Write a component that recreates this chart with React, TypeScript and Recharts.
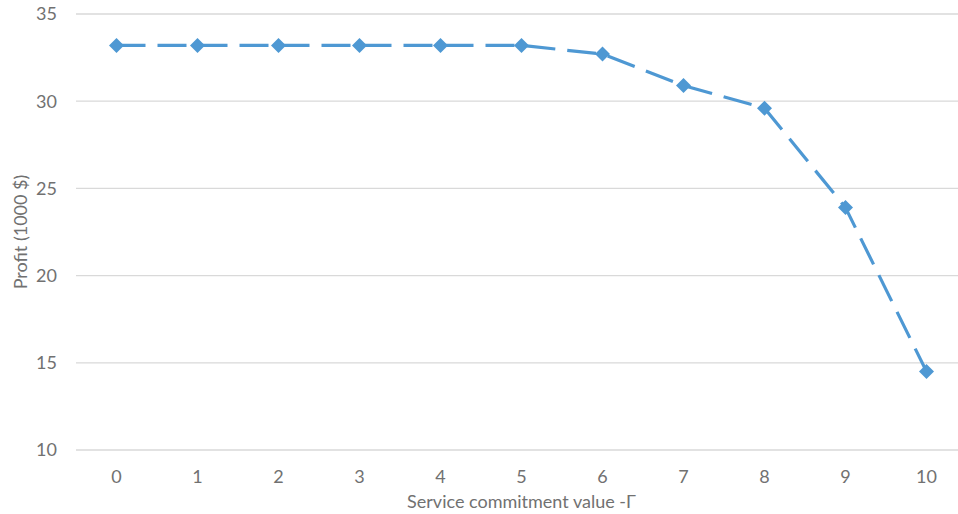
import React from 'react';
import { LineChart, Line, XAxis, YAxis, CartesianGrid } from 'recharts';

// Service commitment levels (Γ) and the resulting profit, in thousands of dollars
const gammaValues = ['0', '1', '2', '3', '4', '5', '6', '7', '8', '9', '10'];
const profitValues = [33.2, 33.2, 33.2, 33.2, 33.2, 33.2, 32.7, 30.9, 29.6, 23.9, 14.5];
const yTicks = [10, 15, 20, 25, 30, 35];

const data = gammaValues.map((g, i) => ({ gamma: g, profit: profitValues[i] }));

const LINE_COLOR = '#4E98D3';
const TEXT_COLOR = '#717171';
const FONT = 'Lato, "Open Sans", sans-serif';

const Diamond = (props: any) => {
  const { cx, cy } = props;
  if (cx == null || cy == null) return null;
  const r = 7.5;
  return (
    <polygon
      points={`${cx},${cy - r} ${cx + r},${cy} ${cx},${cy + r} ${cx - r},${cy}`}
      fill={LINE_COLOR}
      stroke="none"
    />
  );
};

export default function App() {
  return (
    <div
      style={{
        position: 'absolute',
        left: 0,
        top: 0,
        width: 958,
        height: 514,
        overflow: 'hidden',
        background: '#fff',
      }}
    >
      <LineChart
        width={975}
        height={514}
        data={data}
        margin={{ top: 14, right: 8, bottom: 0, left: 16 }}
        style={{ fontFamily: FONT }}
      >
        <CartesianGrid vertical={false} stroke="#d9d9d9" strokeWidth={1.3} />
        <XAxis
          dataKey="gamma"
          height={64}
          axisLine={false}
          tickLine={false}
          padding={{ left: 40.5, right: 40.5 }}
          tickMargin={14}
          tick={{ fill: TEXT_COLOR, fontSize: 18, fontFamily: FONT }}
          label={{
            value: 'Service commitment value -Γ',
            position: 'insideBottom',
            offset: 6,
            fill: TEXT_COLOR,
            fontSize: 18,
            fontFamily: FONT,
          }}
        />
        <YAxis
          width={60}
          domain={[10, 35]}
          ticks={yTicks}
          interval={0}
          axisLine={false}
          tickLine={false}
          tickMargin={13}
          tick={{ fill: TEXT_COLOR, fontSize: 18, fontFamily: FONT }}
          label={{
            value: 'Profit (1000 $)',
            angle: -90,
            position: 'insideLeft',
            offset: 5,
            fill: TEXT_COLOR,
            fontSize: 18,
            fontFamily: FONT,
            style: { textAnchor: 'middle' },
          }}
        />
        <Line
          type="linear"
          dataKey="profit"
          stroke={LINE_COLOR}
          strokeWidth={3.2}
          strokeDasharray="29 12"
          dot={<Diamond />}
          activeDot={false}
          isAnimationActive={false}
        />
      </LineChart>
    </div>
  );
}
